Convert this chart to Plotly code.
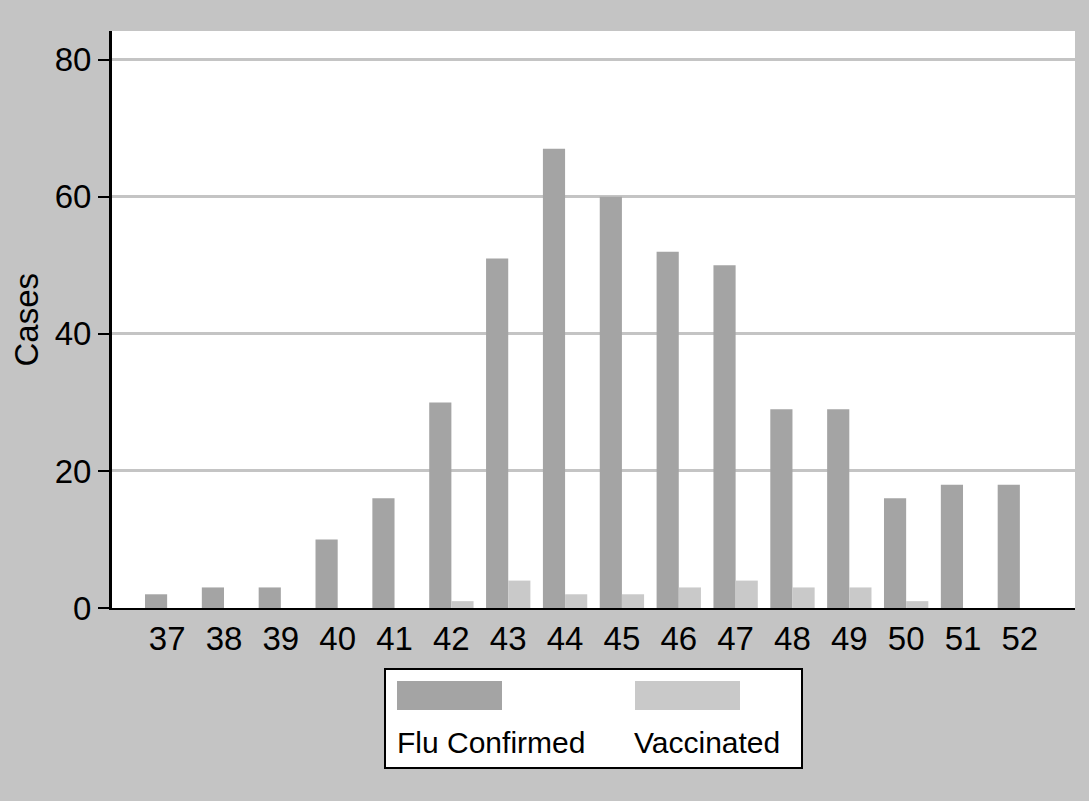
import plotly.graph_objects as go

# --- data ---
weeks = [37, 38, 39, 40, 41, 42, 43, 44, 45, 46, 47, 48, 49, 50, 51, 52]
flu_confirmed = [2, 3, 3, 10, 16, 30, 51, 67, 60, 52, 50, 29, 29, 16, 18, 18]
vaccinated = [0, 0, 0, 0, 0, 1, 4, 2, 2, 3, 4, 3, 3, 1, 0, 0]
y_ticks = [0, 20, 40, 60, 80]

BG = "#c4c4c4"
DARK = "#a4a4a4"
LIGHT = "#c9c9c9"
FONT = "Liberation Sans, Arial, sans-serif"

# plot area in pixels (for placing the hand-drawn legend)
L, R, T, B = 112, 1075, 31, 608
W, H = R - L, B - T


def px(x):
    return (x - L) / W


def py(y):
    return (B - y) / H


fig = go.Figure()
fig.add_trace(go.Bar(x=weeks, y=flu_confirmed, name="Flu Confirmed",
                     marker=dict(color=DARK, line=dict(width=0))))
fig.add_trace(go.Bar(x=weeks, y=vaccinated, name="Vaccinated",
                     marker=dict(color=LIGHT, line=dict(width=0))))

fig.update_layout(
    width=1089, height=801,
    paper_bgcolor=BG, plot_bgcolor="white",
    margin=dict(l=L, r=1089 - R, t=T, b=801 - B, pad=0),
    barmode="group", bargap=0.22, bargroupgap=0,
    showlegend=False,
    font=dict(family=FONT, size=33, color="black"),
)

fig.update_xaxes(
    range=[36.03, 52.97], tickvals=weeks, ticktext=[str(w) for w in weeks],
    showgrid=False, showline=True, linecolor="black", linewidth=2,
    ticks="", tickfont=dict(size=33), zeroline=False,
)
fig.update_yaxes(
    range=[0, 84.2], tickvals=y_ticks, showgrid=True, gridcolor=BG, gridwidth=3,
    showline=True, linecolor="black", linewidth=3, ticks="outside",
    ticklen=11, tickwidth=2, tickcolor="black", tickfont=dict(size=33),
    zeroline=False,
)

# y axis title
fig.add_annotation(text="Cases", xref="paper", yref="paper",
                   x=px(26), y=0.5, textangle=-90, showarrow=False,
                   font=dict(size=33), xanchor="center", yanchor="middle")

# legend: box with swatches above labels
fig.add_shape(type="rect", xref="paper", yref="paper",
              x0=px(385), x1=px(802), y0=py(669), y1=py(768),
              fillcolor="white", line=dict(color="black", width=2))
fig.add_shape(type="rect", xref="paper", yref="paper",
              x0=px(397), x1=px(502), y0=py(681), y1=py(710),
              fillcolor=DARK, line=dict(width=0))
fig.add_shape(type="rect", xref="paper", yref="paper",
              x0=px(635), x1=px(740), y0=py(681), y1=py(710),
              fillcolor=LIGHT, line=dict(width=0))
fig.add_annotation(text="Flu Confirmed", xref="paper", yref="paper",
                   x=px(395), y=py(742), showarrow=False, xanchor="left",
                   yanchor="middle", font=dict(size=30))
fig.add_annotation(text="Vaccinated", xref="paper", yref="paper",
                   x=px(632), y=py(742), showarrow=False, xanchor="left",
                   yanchor="middle", font=dict(size=30))

fig.write_html("out.html", config={"displayModeBar": False},
               post_script="document.body.style.margin='0';")
